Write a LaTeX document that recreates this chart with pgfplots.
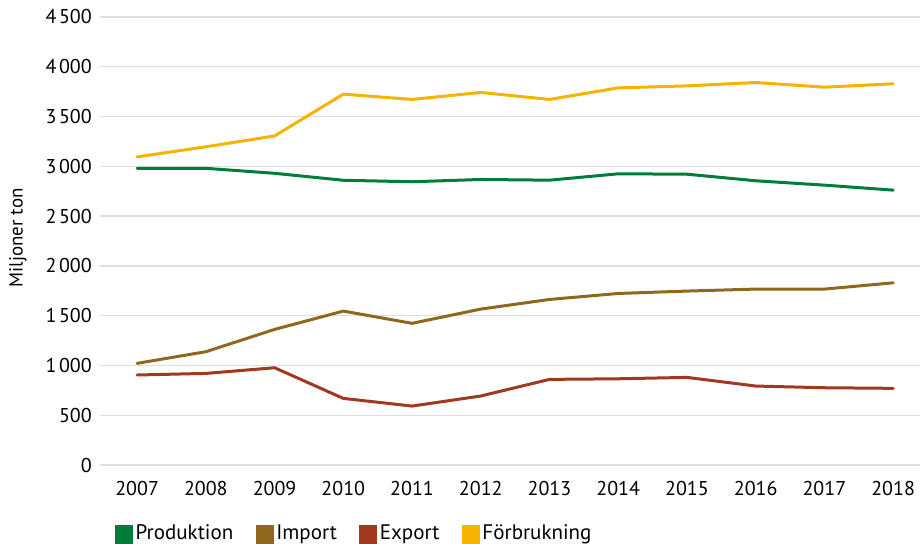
\documentclass[border=0pt]{standalone}
\usepackage{pgfplots}
\pgfplotsset{compat=1.18}
\usepackage{fontspec}
\setmainfont{PT Sans}
\definecolor{cProd}{RGB}{0,125,58}
\definecolor{cImp}{RGB}{143,104,30}
\definecolor{cExp}{RGB}{160,57,32}
\definecolor{cForb}{RGB}{245,180,0}
\definecolor{cGrid}{RGB}{222,222,222}
\begin{document}
\fontsize{20bp}{23bp}\selectfont
\begin{tikzpicture}
\begin{axis}[
  scale only axis,
  width=820bp, height=448bp,
  xmin=2006.46, xmax=2018.39,
  ymin=0, ymax=4500,
  xtick={2007,...,2018},
  ytick={0,500,...,4500},
  /pgf/number format/assume math mode=true,
  /pgf/number format/1000 sep={\kern2.5bp},
  xticklabel style={/pgf/number format/1000 sep={}, anchor=center, yshift=-23bp, inner sep=0pt},
  yticklabel style={anchor=east, xshift=-8bp, inner sep=0pt},
  axis line style={draw=none},
  major tick style={draw=none},
  ymajorgrids,
  grid style={cGrid, line width=1.3bp},
  ylabel={Miljoner ton},
  ylabel style={at={(axis description cs:0,0.5)}, anchor=center, yshift=82bp, xshift=3bp, font=\fontsize{19bp}{22bp}\selectfont},
  legend columns=4,
  legend style={draw=none, fill=none, at={(axis description cs:0,0)}, anchor=west, xshift=12bp, yshift=-69bp,
    font=\fontsize{21bp}{24bp}\selectfont,
    /tikz/every even column/.append style={column sep=20bp},
    nodes={inner sep=2.5bp}},
  legend image code/.code={\fill[#1, draw=none] (0bp,-9.5bp) rectangle (18bp,9bp);},
  every axis plot/.append style={line width=3bp, line join=round, line cap=round},
]
\addplot[cProd] coordinates {(2007,2980)(2008,2980)(2009,2930)(2010,2860)(2011,2845)(2012,2868)(2013,2861)(2014,2925)(2015,2921)(2016,2855)(2017,2811)(2018,2761)};
\addlegendentry{Produktion}
\addplot[cImp] coordinates {(2007,1021)(2008,1138)(2009,1362)(2010,1546)(2011,1423)(2012,1566)(2013,1663)(2014,1723)(2015,1747)(2016,1767)(2017,1767)(2018,1830)};
\addlegendentry{Import}
\addplot[cExp] coordinates {(2007,904)(2008,920)(2009,977)(2010,669)(2011,592)(2012,693)(2013,860)(2014,866)(2015,880)(2016,793)(2017,776)(2018,770)};
\addlegendentry{Export}
\addplot[cForb] coordinates {(2007,3095)(2008,3196)(2009,3305)(2010,3725)(2011,3672)(2012,3742)(2013,3672)(2014,3788)(2015,3808)(2016,3842)(2017,3795)(2018,3829)};
\addlegendentry{Förbrukning}
\end{axis}
\pgfresetboundingbox
\useasboundingbox (-100bp,-79bp) rectangle (820bp,465bp);
\end{tikzpicture}
\end{document}
